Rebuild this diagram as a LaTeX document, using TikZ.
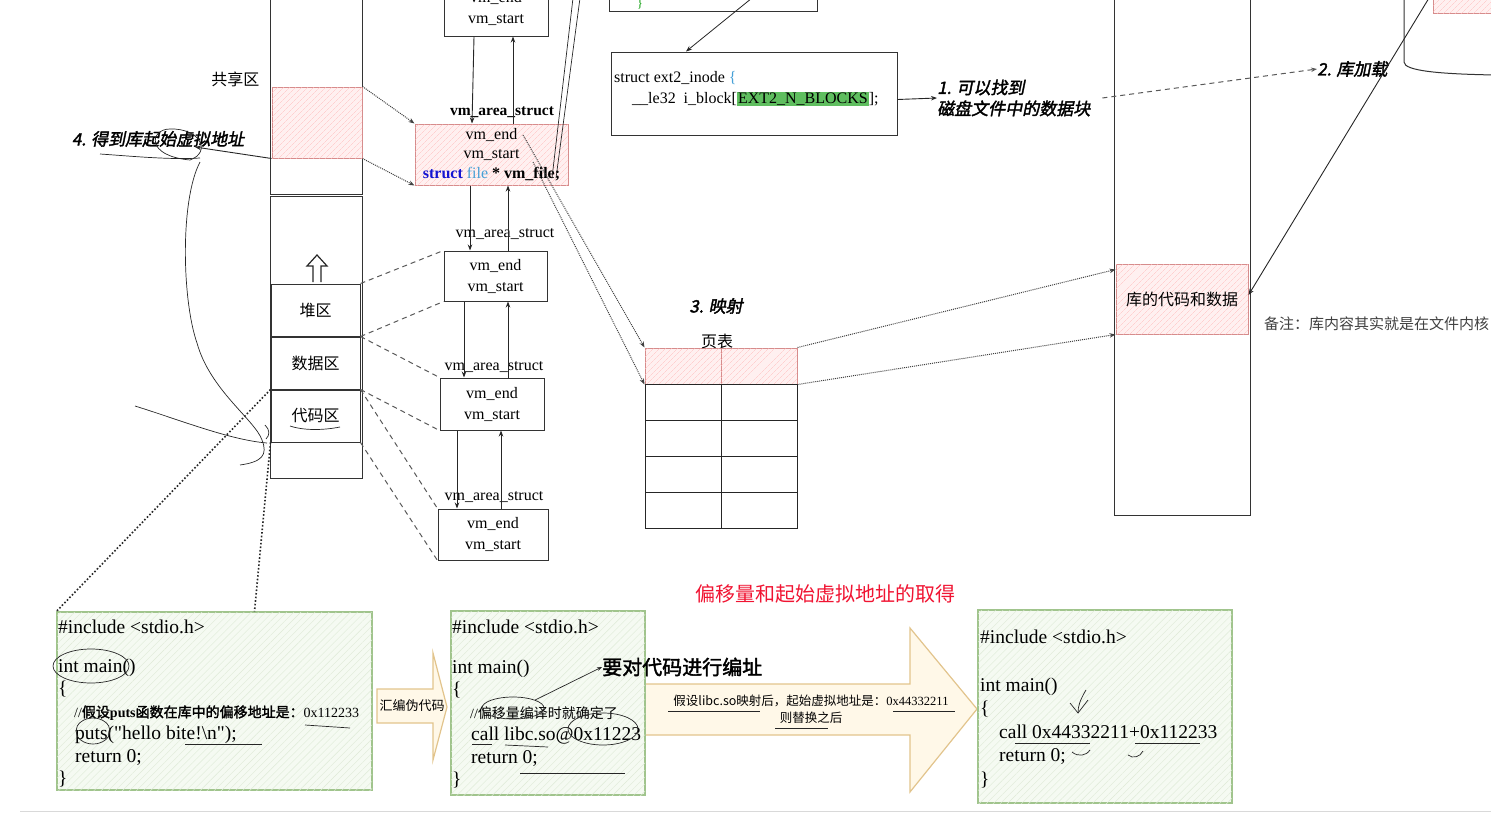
\documentclass[tikz,border=0pt]{standalone}
\usepackage{fontspec}
\setmainfont{Liberation Serif}[Ligatures=TeXOff]
\newfontfamily\cjk{Noto Sans CJK SC}
\newfontfamily\cjkb{Noto Sans CJK SC}[FakeBold=2]
\newfontfamily\cjkbi{Noto Sans CJK SC}[FakeSlant=0.2,FakeBold=2]
\usetikzlibrary{arrows.meta, positioning, calc, patterns.meta, shapes.geometric}
\definecolor{pinkedge}{RGB}{214,140,140}
\definecolor{codegreen}{RGB}{160,196,140}
\definecolor{codefill}{RGB}{245,250,242}
\definecolor{arrowtan}{RGB}{226,196,140}
\definecolor{arrowfill}{RGB}{255,248,232}
\definecolor{kwblue}{RGB}{20,20,210}
\definecolor{typeblue}{RGB}{70,160,215}
\definecolor{hlgreen}{RGB}{95,190,95}
\definecolor{titlered}{RGB}{240,20,50}

\begin{document}
\begin{tikzpicture}[x=1pt, y=-1pt,
    memcol/.style={draw=black!80, line width=1pt},
    seg/.style={draw=black!80, line width=1pt, minimum width=89pt, minimum height=52pt, font=\cjk\fontsize{16}{16}\selectfont},
    vmbox/.style={draw=black!80, line width=1pt, align=center, font=\fontsize{16}{21}\selectfont, inner sep=0pt},
    pinkbox/.style={draw=pinkedge, line width=1pt, fill=red!6, postaction={pattern={Lines[angle=45,distance=4pt,line width=0.4pt]}, pattern color=red!25}},
    vmlabel/.style={font=\fontsize{16}{16}\selectfont, inner sep=0pt},
    link/.style={-{Stealth[length=6pt]}, line width=0.9pt, black!85},
    dashlink/.style={line width=1pt, black!65, dash pattern=on 5pt off 4pt},
    dotlink/.style={-{Stealth[length=6pt]}, densely dotted, line width=1pt, black!75},
    note/.style={font=\cjkbi\fontsize{17}{21}\selectfont, align=left, inner sep=0pt},
    cell/.style={draw=black!85, line width=1pt, minimum width=76pt, minimum height=36pt, inner sep=0pt},
    codebox/.style={draw=codegreen, line width=1.2pt, fill=codefill, postaction={pattern={Lines[angle=45,distance=5pt,line width=0.4pt]}, pattern color=codegreen!35}},
    code/.style={font=\fontsize{19.5}{22.5}\selectfont, align=left, anchor=north west, inner sep=0pt},
    hand/.style={line width=0.7pt, black!85},
    blockarrow/.style={draw=arrowtan, line width=1.2pt, fill=arrowfill}
  ]
  \useasboundingbox (0,0) rectangle (1491,814);

  % address space of the process
  \node[memcol, minimum width=92pt, minimum height=200pt] (col1) at (316,94) {};
  \node[pinkbox, minimum width=90pt, minimum height=71pt] (shared) at (317,122.5) {};
  \node[font=\cjk\fontsize{16}{16}\selectfont, anchor=east] (sharedlbl) at (263,79) {共享区};
  \node[memcol, minimum width=92pt, minimum height=282pt] (col2) at (316,337) {};
  \node[seg] (heap) at (315.5,310) {堆区};
  \node[seg, below=0pt of heap] (data) {数据区};
  \node[seg, below=0pt of data] (code) {代码区};
  \draw[line width=1.2pt, black!85] (313,282) -- (313,266) -- (307,266) -- (317,255) -- (327,266) -- (321,266) -- (321,282);

  % vm_area_struct chain
  \node[vmbox, minimum width=104pt, minimum height=56pt] (vm0) at (496,8) {vm\_end\\vm\_start};
  \node[vmbox, pinkbox, minimum width=153pt, minimum height=61pt, font=\fontsize{16}{19.5}\selectfont] (vmf) at (491.5,154.5)
    {vm\_end\\vm\_start\\\textbf{\color{kwblue}struct} {\color{typeblue}file} \textbf{* vm\_file;}};
  \node[vmbox, minimum width=103pt, minimum height=50pt] (vm1) at (495.5,276) {vm\_end\\vm\_start};
  \node[vmbox, minimum width=104pt, minimum height=52pt] (vm2) at (492,404) {vm\_end\\vm\_start};
  \node[vmbox, minimum width=110pt, minimum height=51pt] (vm3) at (493,534.5) {vm\_end\\vm\_start};
  \node[vmlabel, font=\bfseries\fontsize{15.5}{15.5}\selectfont] (lbl0) at (502,112) {vm\_area\_struct};
  \node[vmlabel] (lbl1) at (505,234) {vm\_area\_struct};
  \node[vmlabel] (lbl2) at (494,367) {vm\_area\_struct};
  \node[vmlabel] (lbl3) at (494,497) {vm\_area\_struct};

  \draw[link] ([xshift=-22pt]vm0.south) -- ([xshift=-19.5pt]vmf.north);
  \draw[link] ([xshift=21.5pt]vmf.north) -- ([xshift=17pt]vm0.south);
  \draw[link] ([xshift=-21.5pt]vmf.south) -- ([xshift=-25.5pt]vm1.north);
  \draw[link] ([xshift=12.5pt]vm1.north) -- ([xshift=16.5pt]vmf.south);
  \draw[link] ([xshift=-31.5pt]vm1.south) -- ([xshift=-28pt]vm2.north);
  \draw[link] ([xshift=16pt]vm2.north) -- ([xshift=12.5pt]vm1.south);
  \draw[link] ([xshift=-35pt]vm2.south) -- ([xshift=-36pt]vm3.north);
  \draw[link] ([xshift=8pt]vm3.north) -- ([xshift=9pt]vm2.south);

  % segments to their areas
  \draw[dashlink] (heap.north east) -- (vm1.north west);
  \draw[dashlink] (heap.south east) -- (vm1.south west);
  \draw[dashlink] (data.north east) -- (vm2.north west);
  \draw[dashlink] (data.south east) -- (vm2.south west);
  \draw[dashlink] (code.north east) -- (vm3.north west);
  \draw[dashlink] (code.south east) -- (vm3.south west);
  \draw[dotlink] (shared.north east) -- (vmf.north west);
  \draw[dotlink] (shared.south east) -- (vmf.south west);

  % page table
  \node[cell, pinkbox] (ptl0) at (683,366) {};
  \node[cell, pinkbox] (ptr0) at (759,366) {};
  \foreach \r in {1,...,4}{
    \node[cell] (ptl\r) at (683,366+36*\r) {};
    \node[cell] (ptr\r) at (759,366+36*\r) {};
  }
  \node[font=\cjk\fontsize{16}{16}\selectfont, inner sep=0pt] (pttitle) at (717,341) {页表};
  \node[note] (note3) at (716,306) {3. 映射};
  \draw[dotlink] ([xshift=31.5pt,yshift=19.5pt]vmf.center) -- (ptl0.north west);
  \draw[dotlink] ([xshift=41.5pt,yshift=-7.5pt]vmf.center) -- (ptl0.south west);

  % physical memory
  \node[memcol, minimum width=136pt, minimum height=520pt] (col3) at (1182,255) {};
  \node[pinkbox, minimum width=132pt, minimum height=70pt, font=\cjk\fontsize{16}{16}\selectfont] (lib) at (1182,299) {库的代码和数据};
  \draw[dotlink] (ptr0.north east) -- ([yshift=-6pt]lib.north west);
  \draw[dotlink] (ptr0.south east) -- (lib.south west);
  \node[font=\cjk\fontsize{15}{15}\selectfont, anchor=west, text=black!75, inner sep=0pt] (remark) at (1264,324) {备注：库内容其实就是在文件内核};

  % inode
  \node[draw=black!80, line width=1pt, fill=white, minimum width=208pt, minimum height=22pt] (prev) at (713,0) {};
  \node[text=green!60!black, font=\fontsize{12}{12}\selectfont, inner sep=0pt] (prevbrace) at (640,4) {\}};
  \node[draw=black!80, line width=1pt, minimum width=286pt, minimum height=83pt] (inode) at (754,93.5) {};
  \node[anchor=north west, font=\fontsize{16}{21}\selectfont, align=left, inner sep=0pt] (inodetxt) at (614,71)
    {struct ext2\_inode {\color{typeblue}\{}\\\hspace*{18pt}\_\_le32\ \ i\_block[{\fboxsep=1pt\colorbox{hlgreen}{EXT2\_N\_BLOCKS}}];};
  \coordinate (offA) at (752,-2);
  \draw[link, line width=0.8pt] (offA) -- ([xshift=-68pt]inode.north);
  \coordinate (offB) at (573,-2);
  \coordinate (offC) at (580,-2);
  \draw[hand] (offB) -- ([xshift=60.5pt,yshift=-23.5pt]vmf.center);
  \draw[hand] (offC) -- ([xshift=64.5pt,yshift=-23.5pt]vmf.center);

  \node[note, anchor=west] (note1) at (937,98) {1. 可以找到\\磁盘文件中的数据块};
  \draw[link] ([yshift=-6pt]inode.east) -- (note1.west);
  \node[note, anchor=west] (note2) at (1317,69) {2. 库加载};
  \draw[dashlink, -{Stealth[length=6pt]}] ([xshift=12pt]note1.east) -- (note2.west);

  % disk
  \draw[line width=1pt, black!80] (1404,-5) -- (1404,62) .. controls (1404,71) and (1440,74) .. (1495,75);
  \node[pinkbox, minimum width=62pt, minimum height=20pt] (disklib) at (1464,3) {};
  \coordinate (offD) at (1429,-2);
  \draw[link] (offD) -- ([yshift=4pt]lib.east);

  % start address
  \node[note] (note4) at (158,139) {4. 得到库起始虚拟地址};
  \draw[link] (shared.south west) -- ([xshift=37pt,yshift=-8pt]note4.center);
  \draw[hand] (100,154) .. controls (130,156) and (170,160) .. (200,158);
  \draw[hand] (190,160) .. controls (212,152) and (200,128) .. (170,129) .. controls (150,129) and (145,156) .. (190,160);
  \draw[hand] (200,162) .. controls (180,200) and (182,300) .. (197,343) .. controls (210,390) and (255,420) .. (262,440) .. controls (268,455) and (262,462) .. (240,465);
  \draw[hand] (135,406) .. controls (180,420) and (230,440) .. (267,443);
  \draw[hand] (265,425) .. controls (270,430) and (270,435) .. (266,439);
  \draw[hand] (290,426) .. controls (305,431) and (325,430) .. (340,427);

  % code boxes
  \draw[blockarrow] (377,689) -- (433,689) -- (433,653) -- (447,707) -- (433,760) -- (433,723) -- (377,723) -- cycle;
  \node[font=\cjk\fontsize{13}{13}\selectfont, inner sep=0pt] (asm) at (412,706) {汇编伪代码};
  \draw[blockarrow] (645,684) -- (910,684) -- (910,628) -- (977,709) -- (910,792) -- (910,735) -- (645,735) -- cycle;
  \node[font=\cjk\fontsize{12.5}{17}\selectfont, align=center, inner sep=0pt] (reloc) at (811,709)
    {假设libc.so映射后，起始虚拟地址是：{\rmfamily 0x44332211}\\则替换之后};

  \node[codebox, minimum width=315pt, minimum height=178pt] (boxA) at (214.5,701) {};
  \node[code] (srcA) at (58,620) {\#include <stdio.h>\\[16pt]int main()\\\{\\
    \hspace*{16pt}{\fontsize{14}{14}\selectfont //{\cjkb 假设}{\bfseries puts}{\cjkb 函数在库中的偏移地址是：}0x112233}\\
    \hspace*{17pt}puts("hello bite!\textbackslash n");\\\hspace*{17pt}return 0;\\\}};
  \node[codebox, minimum width=194pt, minimum height=184pt] (boxB) at (548,703) {};
  \node[code] (srcB) at (452,620) {\#include <stdio.h>\\[17pt]int main()\\\{\\
    \hspace*{18pt}{\fontsize{14}{14}\selectfont //\cjk 偏移量编译时就确定了}\\
    \hspace*{19pt}call libc.so@0x11223\\\hspace*{19pt}return 0;\\\}};
  \node[codebox, minimum width=254pt, minimum height=193pt] (boxC) at (1105,706.5) {};
  \node[code, font=\fontsize{19.5}{23.5}\selectfont] (srcC) at (980,630) {\#include <stdio.h>\\[24pt]int main()\\\{\\
    \hspace*{19pt}call 0x44332211+0x112233\\\hspace*{19pt}return 0;\\\}};

  \draw[line width=1.6pt, dotted, black!85] (code.north west) -- (boxA.north west);
  \draw[line width=1.6pt, dotted, black!85] (code.south west) -- ([xshift=40pt]boxA.north);

  \node[font=\cjkb\fontsize{20}{20}\selectfont, anchor=west, inner sep=0pt] (addr) at (602,667) {要对代码进行编址};
  \node[draw, hand, ellipse, minimum width=62pt, minimum height=22pt] (ovB) at (513,708) {};
  \draw[hand, -{Stealth[length=5pt]}] (ovB.north east) -- (addr.west);
  \node[font=\cjk\fontsize{20}{20}\selectfont, text=titlered, inner sep=0pt] (title) at (825,594) {偏移量和起始虚拟地址的取得};

  % hand marks
  \draw[hand] (91,666) ellipse (38pt and 17pt);
  \draw[hand] (93,731) ellipse (17pt and 13pt);
  \draw[hand] (305,725) -- (350,728);
  \draw[hand] (185,744) -- (262,744);
  \draw[hand] (603,729) ellipse (35pt and 16pt);
  \draw[hand] (472,744) -- (492,744);
  \draw[hand] (505,745) -- (548,747);
  \draw[hand] (520,773) -- (625,773);
  \draw[hand] (668,711) -- (760,711);
  \draw[hand] (893,711) -- (955,711);
  \draw[hand] (775,728) -- (828,728);
  \draw[hand] (1086,690) .. controls (1080,700) and (1078,706) .. (1078,713);
  \draw[hand] (1070,703) -- (1078,713) -- (1088,700);
  \draw[hand] (1015,743) -- (1090,743);
  \draw[hand] (1135,743) -- (1200,743);
  \draw[hand] (1072,752) .. controls (1078,757) and (1086,756) .. (1090,750);
  \draw[hand] (1128,755) .. controls (1133,759) and (1140,757) .. (1143,751);

  \draw[gray!30, line width=1pt] (20,811) -- (1491,811);
\end{tikzpicture}
\end{document}
